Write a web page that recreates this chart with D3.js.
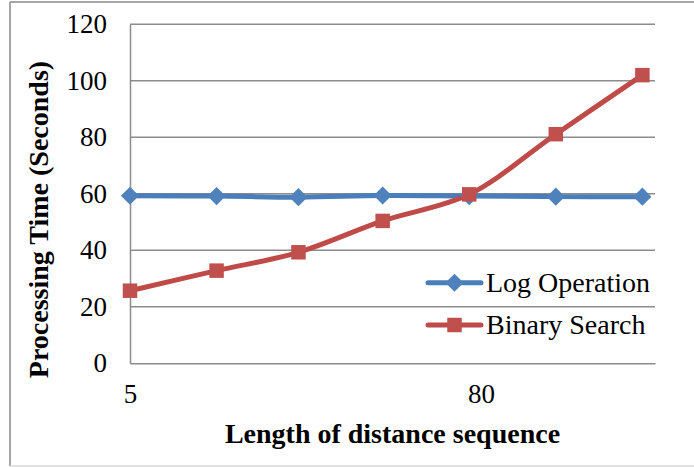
<!DOCTYPE html>
<html>
<head>
<meta charset="utf-8">
<script src="https://cdn.jsdelivr.net/npm/d3@7"></script>
<style>
  html, body { margin: 0; padding: 0; background: #fff; }
  svg { display: block; }
  text { font-family: "Liberation Serif", "Times New Roman", serif; fill: #000; }
</style>
</head>
<body>
<svg id="chart" width="694" height="467"></svg>
<script>
// ---- data ----
const xValues = [5, 23.5, 41, 59, 77.5, 96, 114.5];
const logOperation = [59.3, 59.2, 58.8, 59.4, 59.2, 59.0, 59.0];
const binarySearch = [25.7, 32.8, 39.3, 50.4, 59.8, 81.1, 102.0];
const seriesNames = ["Log Operation", "Binary Search"];
const xTickValues = [5, 80];
const yTickValues = [0, 20, 40, 60, 80, 100, 120];
const xTitle = "Length of distance sequence";
const yTitle = "Processing Time (Seconds)";

// ---- layout ----
const svg = d3.select("#chart");
const W = 694, H = 467;
const plot = { left: 130, right: 655, top: 24.3, bottom: 363.3 };
const colors = [
  { line: "#4A7EBB", marker: "#4F81BD" },
  { line: "#BE4B48", marker: "#C0504D" }
];

// chart border
svg.append("line").attr("x1", 10).attr("x2", 10).attr("y1", 2).attr("y2", 466)
  .attr("stroke", "#8a8a8a").attr("stroke-width", 1.5);
svg.append("line").attr("x1", 10).attr("x2", W).attr("y1", 2).attr("y2", 2)
  .attr("stroke", "#8a8a8a").attr("stroke-width", 1.5);
svg.append("line").attr("x1", 10).attr("x2", W).attr("y1", 466).attr("y2", 466)
  .attr("stroke", "#d9d9d9").attr("stroke-width", 1.5);

const x = d3.scaleLinear().domain([5, 117.2]).range([plot.left, plot.right]);
const y = d3.scaleLinear().domain([0, 120]).range([plot.bottom, plot.top]);

// gridlines
svg.append("g").selectAll("line").data(yTickValues.filter(v => v > 0)).join("line")
  .attr("x1", plot.left).attr("x2", plot.right)
  .attr("y1", d => y(d)).attr("y2", d => y(d))
  .attr("stroke", "#8c8c8c").attr("stroke-width", 1.5);

// y axis
const yAxis = svg.append("g").attr("transform", `translate(${plot.left},0)`)
  .call(d3.axisLeft(y).tickValues(yTickValues).tickSize(0).tickPadding(23).tickFormat(d3.format("d")));
yAxis.select(".domain").attr("stroke", "#8c8c8c").attr("stroke-width", 1.5);
yAxis.selectAll("text").style("font-size", "27px").attr("font-family", "Liberation Serif");

// x axis
const xAxis = svg.append("g").attr("transform", `translate(0,${plot.bottom})`)
  .call(d3.axisBottom(x).tickValues(xTickValues).tickSize(0).tickPadding(21).tickFormat(d3.format("d")));
xAxis.select(".domain").attr("stroke", "#8c8c8c").attr("stroke-width", 1.5);
xAxis.selectAll("text").style("font-size", "27px").attr("font-family", "Liberation Serif");

// axis titles
svg.append("text").attr("x", 392.5).attr("y", 443)
  .attr("text-anchor", "middle").style("font-size", "28px").style("font-weight", "bold")
  .text(xTitle);
svg.append("text").attr("transform", "translate(48,219.5) rotate(-90)")
  .attr("text-anchor", "middle").style("font-size", "28px").style("font-weight", "bold")
  .text(yTitle);

// lines
const series = [logOperation, binarySearch];
const line = d3.line().x((d, i) => x(xValues[i])).y(d => y(d)).curve(d3.curveCatmullRom.alpha(0.5));
const diamond = d3.symbol().type(d3.symbolDiamond2).size(210);
const square = d3.symbol().type(d3.symbolSquare).size(210);

series.forEach((vals, si) => {
  svg.append("path").datum(vals).attr("d", line)
    .attr("fill", "none").attr("stroke", colors[si].line).attr("stroke-width", 5)
    .attr("stroke-linejoin", "round").attr("stroke-linecap", "round");
});
series.forEach((vals, si) => {
  svg.append("g").selectAll("path").data(vals).join("path")
    .attr("transform", (d, i) => `translate(${x(xValues[i])},${y(d)})`)
    .attr("d", si === 0 ? diamond : square)
    .attr("fill", colors[si].marker);
});

// legend
const legendY = [282.7, 325];
seriesNames.forEach((name, si) => {
  const g = svg.append("g").attr("transform", `translate(0,${legendY[si]})`);
  g.append("line").attr("x1", 428).attr("x2", 481).attr("y1", 0).attr("y2", 0)
    .attr("stroke", colors[si].line).attr("stroke-width", 5).attr("stroke-linecap", "round");
  g.append("path").attr("transform", "translate(454.5,0)")
    .attr("d", si === 0 ? diamond : square).attr("fill", colors[si].marker);
  g.append("text").attr("x", 486).attr("y", 0).attr("dy", "0.33em")
    .style("font-size", "28px").text(name);
});
</script>
</body>
</html>
